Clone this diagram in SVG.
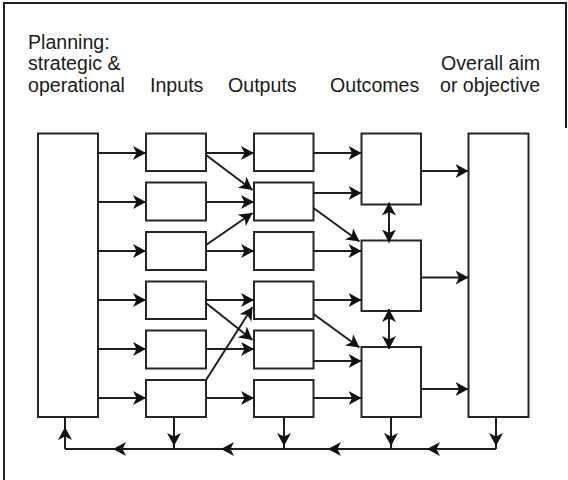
<svg xmlns="http://www.w3.org/2000/svg" width="568" height="480" viewBox="0 0 568 480">
  <defs>
    <style>
      .frame { fill: none; stroke: #1e1e1e; stroke-width: 2; }
      .box { fill: #ffffff; stroke: #262626; stroke-width: 2; }
      .lbl { font-family: "Liberation Sans", Arial, Helvetica, sans-serif; font-size: 19.6px; fill: #1a1a1a; }
      .wire { fill: none; stroke: #1e1e1e; stroke-width: 2; }
      .arr { marker-end: url(#ah); }
      .both { marker-start: url(#ah); marker-end: url(#ah); }
      .mid { marker-mid: url(#ah); }
    </style>
    <marker id="ah" viewBox="0 0 13 14" markerWidth="13" markerHeight="14" refX="13" refY="7" orient="auto-start-reverse" markerUnits="userSpaceOnUse">
      <path d="M0,0 L13,7 L0,14 L3.5,7 Z" fill="#111111"/>
    </marker>
  </defs>

  <rect width="568" height="480" fill="#ffffff"/>
  <path class="frame" d="M4,480 V3 H566 V128"/>

  <!-- column headings -->
  <g id="headings" class="lbl">
    <text x="28" y="48.5">Planning:</text>
    <text x="28" y="70">strategic &amp;</text>
    <text x="28" y="91.5">operational</text>
    <text x="150" y="91.5">Inputs</text>
    <text x="228" y="91.5">Outputs</text>
    <text x="330" y="91.5">Outcomes</text>
    <text x="441" y="70">Overall aim</text>
    <text x="440" y="91.5">or objective</text>
  </g>

  <!-- planning column -->
  <g id="planning">
    <rect class="box" x="38" y="133.5" width="60" height="283.5"/>
  </g>

  <!-- inputs -->
  <g id="input-1"><rect class="box" x="146" y="133.5" width="60" height="37.5"/></g>
  <g id="input-2"><rect class="box" x="146" y="182.5" width="60" height="38"/></g>
  <g id="input-3"><rect class="box" x="146" y="232" width="60" height="38"/></g>
  <g id="input-4"><rect class="box" x="146" y="281.5" width="60" height="37.5"/></g>
  <g id="input-5"><rect class="box" x="146" y="330.5" width="60" height="38"/></g>
  <g id="input-6"><rect class="box" x="146" y="380" width="60" height="37"/></g>

  <!-- outputs -->
  <g id="output-1"><rect class="box" x="254" y="133.5" width="59.5" height="37.5"/></g>
  <g id="output-2"><rect class="box" x="254" y="182.5" width="59.5" height="38"/></g>
  <g id="output-3"><rect class="box" x="254" y="232" width="59.5" height="38"/></g>
  <g id="output-4"><rect class="box" x="254" y="281.5" width="59.5" height="37.5"/></g>
  <g id="output-5"><rect class="box" x="254" y="330.5" width="59.5" height="38"/></g>
  <g id="output-6"><rect class="box" x="254" y="380" width="59.5" height="37"/></g>

  <!-- outcomes -->
  <g id="outcome-1"><rect class="box" x="361.5" y="133.5" width="59.5" height="71"/></g>
  <g id="outcome-2"><rect class="box" x="361.5" y="240.5" width="59.5" height="70.5"/></g>
  <g id="outcome-3"><rect class="box" x="361.5" y="347" width="59.5" height="70"/></g>

  <!-- overall aim column -->
  <g id="aim">
    <rect class="box" x="468.5" y="133.5" width="60" height="283.5"/>
  </g>

  <g id="connectors" class="wire">
    <!-- planning to inputs -->
    <path class="arr" d="M98,153 H146"/>
    <path class="arr" d="M98,202 H146"/>
    <path class="arr" d="M98,251 H146"/>
    <path class="arr" d="M98,300 H146"/>
    <path class="arr" d="M98,349 H146"/>
    <path class="arr" d="M98,398 H146"/>

    <!-- inputs to outputs -->
    <path class="arr" d="M206,153 H254"/>
    <path class="arr" d="M206,202 H254"/>
    <path class="arr" d="M206,251 H254"/>
    <path class="arr" d="M206,300 H254"/>
    <path class="arr" d="M206,349 H254"/>
    <path class="arr" d="M206,398 H254"/>
    <path class="arr" d="M206,155 L252.5,190"/>
    <path class="arr" d="M206,245 L252.5,213"/>
    <path class="arr" d="M206,303 L252.5,340"/>
    <path class="arr" d="M206,380 L252.5,307"/>

    <!-- outputs to outcomes -->
    <path class="arr" d="M313.5,153 H361.5"/>
    <path class="arr" d="M313.5,193 H361.5"/>
    <path class="arr" d="M313.5,208 L359.5,241.5"/>
    <path class="arr" d="M313.5,251 H361.5"/>
    <path class="arr" d="M313.5,300 H361.5"/>
    <path class="arr" d="M313.5,314 L359.5,347.5"/>
    <path class="arr" d="M313.5,361 H361.5"/>
    <path class="arr" d="M313.5,398 H361.5"/>

    <!-- outcomes to overall aim -->
    <path class="arr" d="M421,171 H468.5"/>
    <path class="arr" d="M421,277.5 H468.5"/>
    <path class="arr" d="M421,389 H468.5"/>

    <!-- links between outcomes -->
    <path class="both" d="M389,242.5 V202.5"/>
    <path class="both" d="M389,349 V309"/>

    <!-- feedback loop -->
    <path class="mid" d="M174,417 L174,446 L174,449"/>
    <path class="mid" d="M284,417 L284,446 L284,449"/>
    <path class="mid" d="M391,417 L391,446 L391,449"/>
    <path class="mid" d="M496,417 L496,446 L496,449"/>
    <path class="mid" d="M496,449 L427,449 L328,449 L221,449 L113,449 L65,449"/>
    <path class="mid" d="M65,449 L65,427 L65,417"/>
  </g>
</svg>
